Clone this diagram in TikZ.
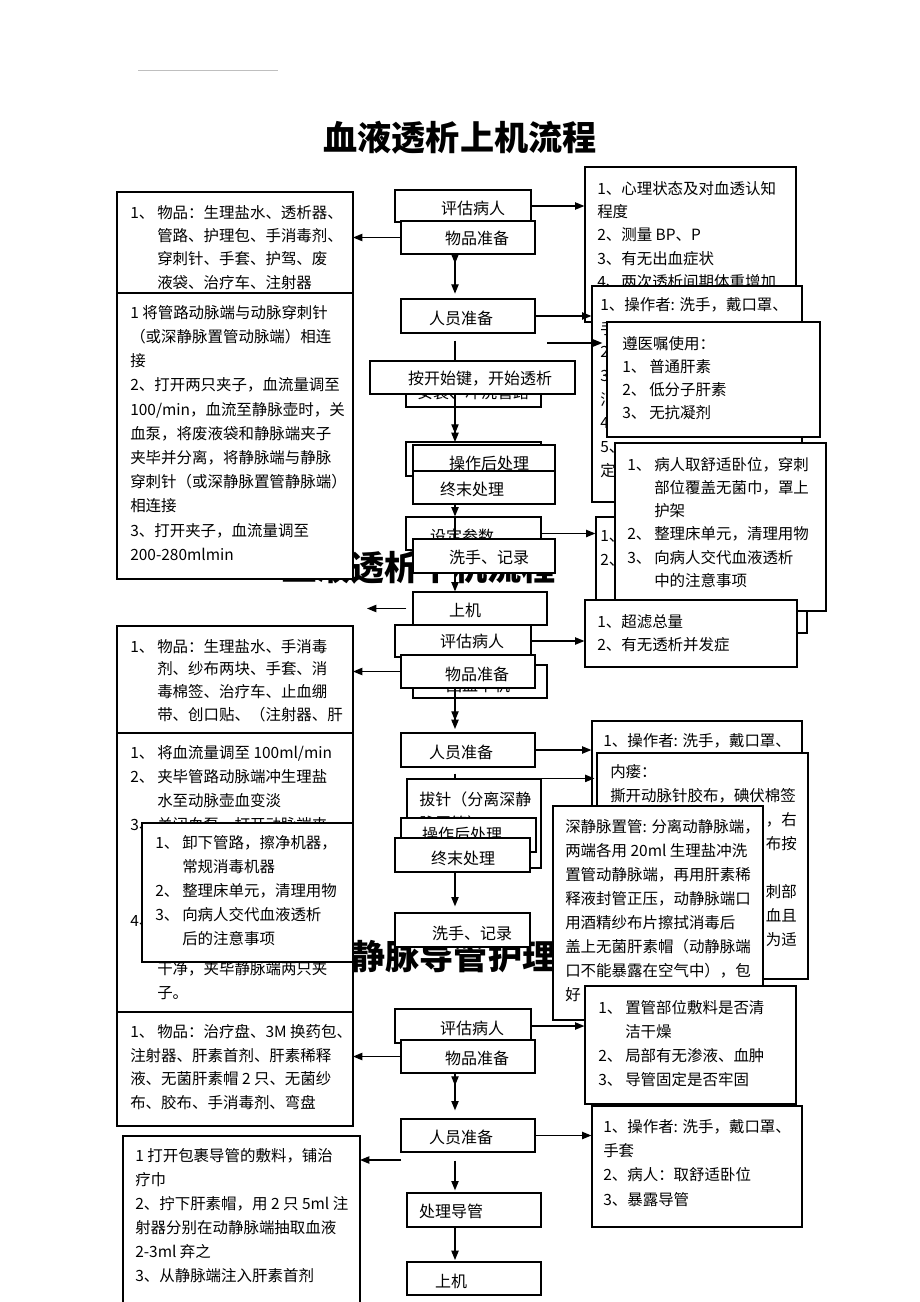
\documentclass[tikz,border=0pt]{standalone}
\usepackage{fontspec}
\usepackage{tikz}
\usetikzlibrary{arrows.meta,fit}
\newfontfamily\cjk{Noto Sans CJK SC}
\newcommand{\numbox}[1]{\makebox[20.25pt][l]{#1}}
\newcommand{\numskip}{\hspace*{20.25pt}}

\begin{document}
\begin{tikzpicture}[x=0.75pt,y=0.75pt,yscale=-1,xscale=1,
  box/.style={draw, line width=0.9pt, fill=white, inner sep=0pt},
  lbl/.style={inner sep=0pt, font=\cjk\fontsize{12}{18}\selectfont},
  para/.style={anchor=north west, inner sep=0pt, align=left, font=\cjk\fontsize{11.6}{#1}\selectfont},
  para/.default=18,
  ttl/.style={inner sep=0pt, font=\cjk\bfseries\fontsize{25.6}{30}\selectfont},
  arr/.style={line width=0.9pt, -{Triangle[length=7pt,width=5.5pt]}},
  ln/.style={line width=0.9pt}]
\useasboundingbox (0,0) rectangle (920,1302);

%header rule and titles
\draw [gray!50, line width=0.4pt] (138,70) -- (278,70) ;
\node [ttl] (title1) at (460,138) {血液透析上机流程};
\node [ttl] (title2) at (419,568) {血液透析下机流程};
\node [ttl] (title3) at (471,956) {深静脉导管护理流程};

\coordinate (col) at (455,0);

%right column boxes
\node [box, fit={(585,167) (796,322)}] (r1) {};
\node [para=17.5] (r1t) at (597,181) {1、心理状态及对血透认知\\程度\\2、测量 BP、P\\3、有无出血症状\\4、两次透析间期体重增加};
\node [box, fit={(592,286) (802,502)}] (r2) {};
\node [para=17.8] (r2t) at (600,297) {1、操作者: 洗手，戴口罩、\\手套\\2、\\3、\\消\\4、\\5、\\定};
\coordinate (s1hint) at (547,343);
\draw [arr, shorten >=3.5pt] (s1hint) -- (s1hint -| 607,0) ;
\node [box, fit={(607,322) (820,437)}] (r3) {};
\node [para=17.3] (r3t) at (622,336) {遵医嘱使用：\\\numbox{1、}普通肝素\\\numbox{2、}低分子肝素\\\numbox{3、}无抗凝剂};
\node [box, fit={(596,517) (807,633)}] (r5) {};
\node [para] (r5t) at (600,530) {1、\\2、};
\node [box, fit={(615,443) (826,611)}] (r4) {};
\node [para=17.4] (r4t) at (627,457) {\numbox{1、}病人取舒适卧位，穿刺\\\numskip 部位覆盖无菌巾，罩上\\\numskip 护架\\\numbox{2、}整理床单元，清理用物\\\numbox{3、}向病人交代血液透析\\\numskip 中的注意事项};
\node [box, fit={(585,600) (797,667)}] (r6) {};
\node [para=17.3] (r6t) at (597,614) {1、超滤总量\\2、有无透析并发症};
\node [box, fit={(592,721) (802,880)}] (r11) {};
\node [para] (r11t) at (603,733) {1、操作者: 洗手，戴口罩、};
\node [box, fit={(597,753) (808,979)}] (r7) {};
\node [para] (r7t) at (610,764) {内瘘：\\撕开动脉针胶布，碘伏棉签};
\node [para, anchor=north east, align=right] (r7f1) at (797,812) {，右\\布按};
\node [para, anchor=north east, align=right] (r7f2) at (797,884) {刺部\\血且\\为适};
\node [box, fit={(553,806) (763,1020)}] (r8) {};
\node [para] (r8t) at (565,819) {深静脉置管: 分离动静脉端，\\两端各用 20ml 生理盐冲洗\\置管动静脉端，再用肝素稀\\释液封管正压，动静脉端口\\用酒精纱布片擦拭消毒后\\盖上无菌肝素帽（动静脉端\\口不能暴露在空气中），包\\好};
\node [box, fit={(585,986) (796,1104)}] (r9) {};
\node [para] (r9t) at (598,1000) {\numbox{1、}置管部位敷料是否清\\\numskip 洁干燥\\\numbox{2、}局部有无渗液、血肿\\\numbox{3、}导管固定是否牢固};
\node [box, fit={(592,1106) (802,1227)}] (r10) {};
\node [para=18.2] (r10t) at (603,1119) {1、操作者: 洗手，戴口罩、\\手套\\2、病人：取舒适卧位\\3、暴露导管};

%upper flow
\node [box, fit={(395,190) (531,222)}] (s1eval) {};
\node [lbl] (s1evall) at (473,208) {评估病人};
\node [box, fit={(401,221) (535,254)}] (s1items) {};
\node [lbl] (s1itemsl) at (477,238) {物品准备};
\draw [arr] (s1eval.east) -- (s1eval.east -| r1.west) ;
\draw [arr] (s1items.west) -- (s1items.west -| 353,0) ;
\draw [arr] (col |- s1items.south) -- ++(0,9) ;
\draw [arr, shorten >=4pt] (col |- s1items.south) -- (col |- 0,299) ;
\node [box, fit={(401,299) (535,333)}] (s1staff) {};
\node [lbl] (s1staffl) at (461,318) {人员准备};
\draw [arr] (s1staff.east) -- (s1staff.east -| r2.west) ;
\draw [ln] (col |- s1staff.south) ++(0,7) -- (col |- 0,361) ;
\node [box, fit={(406,366) (541,407)}] (s1flush) {};
\node [lbl] (s1flushl) at (473,392) {安装、冲洗管路};
\node [box, fit={(370,361) (575,394)}] (s1start) {};
\node [lbl] (s1startl) at (480,379) {按开始键，开始透析};
\draw [arr] (col |- s1start.south) -- ++(0,39) ;
\draw [arr] (col |- s1start.south) -- (col |- 0,442) ;
\node [box, fit={(406,442) (541,476)}] (s1back) {};
\node [box, fit={(413,445) (555,478)}] (s1after) {};
\node [lbl] (s1afterl) at (489,463) {操作后处理};
\node [box, fit={(413,471) (555,504)}] (s1final) {};
\node [lbl] (s1finall) at (472,489) {终末处理};
\node [box, fit={(406,517) (541,550)}] (s1param) {};
\node [lbl] (s1paraml) at (462,536) {设定参数};
\draw [arr] (col |- s1final.south) -- (col |- s1param.north) ;
\draw [ln] (col |- s1param.north) -- (col |- 0,539) ;
\draw [arr] (s1param.east) -- (s1param.east -| r5.west) ;
\node [box, fit={(413,539) (555,573)}] (s1wash) {};
\node [lbl] (s1washl) at (489,557) {洗手、记录};
\node [box, fit={(413,592) (547,625)}] (s1on) {};
\node [lbl] (s1onl) at (465,610) {上机};
\draw [arr] (col |- s1wash.south) -- (col |- s1on.north) ;
\coordinate (s1lend) at (367,604);
\draw [arr, shorten <=4.5pt] (s1on.west) -- (s1lend |- s1on.west) ;

%middle flow
\node [box, fit={(395,625) (531,657)}] (s2eval) {};
\node [lbl] (s2evall) at (472,641) {评估病人};
\node [box, fit={(413,665) (547,698)}] (s2hidden) {};
\node [lbl] (s2hiddenl) at (478,685) {回血下机};
\node [box, fit={(401,655) (535,688)}] (s2items) {};
\node [lbl] (s2itemsl) at (477,674) {物品准备};
\draw [arr] (s2eval.east) -- (s2eval.east -| r6.west) ;
\draw [arr] (s2items.west) -- (s2items.west -| 353,0) ;
\draw [arr] (col |- s2items.south) -- ++(0,32) ;
\draw [arr, shorten >=3pt] (col |- s2items.south) -- (col |- 0,733) ;
\node [box, fit={(401,733) (535,767)}] (s2staff) {};
\node [lbl] (s2staffl) at (461,752) {人员准备};
\draw [arr] (s2staff.east) -- (s2staff.east -| r11.west) ;
\draw [ln] (col |- s2staff.south) ++(0,6) -- (col |- 0,779) ;
\node [box, fit={(407,779) (541,868)}] (s2needle) {};
\node [lbl, anchor=north west, align=left] (s2needlel) at (419,792) {拔针（分离深静\\脉置管）};
\draw [arr, shorten >=1.5pt] (s2needle.north east) -- (s2needle.north east -| r7.west) ;
\node [box, fit={(401,818) (536,852)}] (s2after) {};
\node [lbl] (s2afterl) at (462,834) {操作后处理};
\node [box, fit={(395,838) (530,872)}] (s2final) {};
\node [lbl] (s2finall) at (463,858) {终末处理};
\draw [arr, shorten >=5pt] (col |- s2final.south) -- (col |- 0,913) ;
\node [box, fit={(395,913) (530,947)}] (s2wash) {};
\node [lbl] (s2washl) at (472,933) {洗手、记录};

%lower flow
\node [box, fit={(395,1009) (531,1043)}] (s3eval) {};
\node [lbl] (s3evall) at (472,1028) {评估病人};
\node [box, fit={(401,1040) (535,1073)}] (s3items) {};
\node [lbl] (s3itemsl) at (477,1058) {物品准备};
\draw [arr] (s3eval.east) -- (s3eval.east -| r9.west) ;
\draw [arr] (s3items.west) -- (s3items.west -| 353,0) ;
\draw [arr] (col |- s3items.south) -- ++(0,12) ;
\draw [arr, shorten >=6.5pt] (col |- s3items.south) -- (col |- 0,1119) ;
\node [box, fit={(401,1119) (535,1152)}] (s3staff) {};
\node [lbl] (s3staffl) at (461,1137) {人员准备};
\draw [arr] (s3staff.east) -- (s3staff.east -| r10.west) ;
\coordinate (s3lstart) at (401,1160);
\draw [arr] (s3lstart) -- (s3lstart -| 360,0) ;
\draw [arr, shorten >=2pt] (col |- s3staff.south) ++(0,8) -- (col |- 0,1193) ;
\node [box, fit={(407,1193) (541,1227)}] (s3tube) {};
\node [lbl] (s3tubel) at (451,1211) {处理导管};
\draw [arr, shorten >=1.5pt] (col |- s3tube.south) -- (col |- 0,1262) ;
\node [box, fit={(407,1262) (541,1295)}] (s3on) {};
\node [lbl] (s3onl) at (451,1281) {上机};

%left column boxes
\node [box, fit={(117,192) (353,300)}] (l1) {};
\node [para=17.5] (l1t) at (130,205) {\numbox{1、}物品：生理盐水、透析器、\\\numskip 管路、护理包、手消毒剂、\\\numskip 穿刺针、手套、护驾、废\\\numskip 液袋、治疗车、注射器};
\node [box, fit={(117,293) (353,579)}] (l2) {};
\node [para=18.15] (l2t) at (130,305) {1 将管路动脉端与动脉穿刺针\\（或深静脉置管动脉端）相连\\接\\2、打开两只夹子，血流量调至\\100/min，血流至静脉壶时，关\\血泵，将废液袋和静脉端夹子\\夹毕并分离，将静脉端与静脉\\穿刺针（或深静脉置管静脉端）\\相连接\\3、打开夹子，血流量调至\\200-280mlmin};
\node [box, fit={(117,626) (353,745)}] (l3) {};
\node [para=17] (l3t) at (130,639) {\numbox{1、}物品：生理盐水、手消毒\\\numskip 剂、纱布两块、手套、消\\\numskip 毒棉签、治疗车、止血绷\\\numskip 带、创口贴、（注射器、肝};
\node [box, fit={(117,733) (353,1030)}] (l4) {};
\node [para] (l4t) at (130,745) {\numbox{1、}将血流量调至 100ml/min\\\numbox{2、}夹毕管路动脉端冲生理盐\\\numskip 水至动脉壶血变淡\\\numbox{3、}关闭血泵，打开动脉端夹\\\mbox{}\\\mbox{}\\\mbox{}\\\numbox{4、}\\\mbox{}\\\numskip 干净，夹毕静脉端两只夹\\\numskip 子。};
\node [box, fit={(142,823) (353,962)}] (l6) {};
\node [para] (l6t) at (155,835) {\numbox{1、}卸下管路，擦净机器，\\\numskip 常规消毒机器\\\numbox{2、}整理床单元，清理用物\\\numbox{3、}向病人交代血液透析\\\numskip 后的注意事项};
\node [box, fit={(117,1012) (353,1126)}] (l5) {};
\node [para=17.8] (l5t) at (130,1024) {\numbox{1、}物品：治疗盘、3M 换药包、\\注射器、肝素首剂、肝素稀释\\液、无菌肝素帽 2 只、无菌纱\\布、胶布、手消毒剂、弯盘};
\node [box, fit={(123,1136) (360,1310)}] (l7) {};
\node [para] (l7t) at (135,1148) {1 打开包裹导管的敷料，铺治\\疗巾\\2、拧下肝素帽，用 2 只 5ml 注\\射器分别在动静脉端抽取血液\\2-3ml 弃之\\3、从静脉端注入肝素首剂};

\end{tikzpicture}
\end{document}
